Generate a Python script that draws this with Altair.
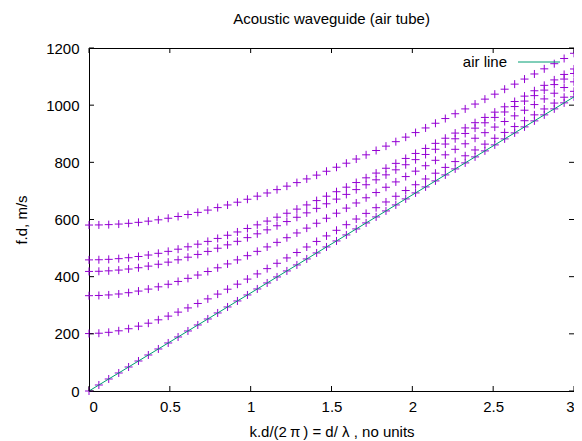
import altair as alt
import pandas as pd

# ---- data (k.d/2pi vs f.d) ----
x_vals = [0, 0.061, 0.122, 0.184, 0.245, 0.306, 0.367, 0.429, 0.49, 0.551,
          0.612, 0.673, 0.735, 0.796, 0.857, 0.918, 0.98, 1.041, 1.102, 1.163,
          1.224, 1.286, 1.347, 1.408, 1.469, 1.531, 1.592, 1.653, 1.714, 1.776,
          1.837, 1.898, 1.959, 2.02, 2.082, 2.143, 2.204, 2.265, 2.327, 2.388,
          2.449, 2.51, 2.571, 2.633, 2.694, 2.755, 2.816, 2.878, 2.939, 3.0]

mode_0 = [0, 21, 42, 63, 84, 105, 126, 147, 168, 189,
          210, 231, 252, 273, 294, 315, 336, 357, 378, 399,
          420, 441, 462, 483, 504, 525, 546, 567, 588, 609,
          630, 651, 672, 693, 714, 735, 756, 777, 798, 819,
          840, 861, 882, 903, 924, 945, 966, 987, 1008, 1029]

mode_1 = [201.0, 202.1, 205.3, 210.6, 217.8, 226.8, 237.2, 249.0, 262.0, 275.9,
          290.7, 306.2, 322.3, 339.0, 356.1, 373.7, 391.5, 409.7, 428.1, 446.8,
          465.6, 484.6, 503.8, 523.2, 542.6, 562.2, 581.8, 601.6, 621.4, 641.3,
          661.3, 681.3, 701.4, 721.6, 741.7, 762.0, 782.3, 802.6, 822.9, 843.3,
          863.7, 884.2, 904.6, 925.1, 945.6, 966.1, 986.7, 1007.3, 1027.8, 1048.4]

mode_2 = [333.5, 334.2, 336.1, 339.4, 343.9, 349.6, 356.5, 364.5, 373.4, 383.3,
          394.1, 405.7, 418.0, 431.0, 444.6, 458.7, 473.4, 488.5, 504.1, 520.0,
          536.3, 552.9, 569.8, 586.9, 604.4, 622.0, 639.8, 657.8, 676.0, 694.3,
          712.8, 731.5, 750.2, 769.1, 788.1, 807.1, 826.3, 845.5, 864.9, 884.3,
          903.8, 923.3, 942.9, 962.6, 982.3, 1002.1, 1021.9, 1041.8, 1061.7, 1081.7]

mode_3 = [418.3, 418.8, 420.4, 423.0, 426.7, 431.3, 436.9, 443.4, 450.8, 459.0,
          468.1, 477.8, 488.3, 499.5, 511.3, 523.6, 536.5, 549.9, 563.8, 578.1,
          592.8, 607.8, 623.2, 639.0, 655.0, 671.3, 687.8, 704.6, 721.6, 738.8,
          756.2, 773.8, 791.6, 809.5, 827.5, 845.7, 864.0, 882.4, 901.0, 919.6,
          938.4, 957.2, 976.2, 995.2, 1014.3, 1033.4, 1052.7, 1072.0, 1091.3, 1110.8]

mode_4 = [458.7, 459.2, 460.6, 463.0, 466.3, 470.6, 475.7, 481.7, 488.5, 496.1,
          504.5, 513.6, 523.4, 533.8, 544.8, 556.4, 568.6, 581.3, 594.4, 608.0,
          621.9, 636.3, 651.0, 666.1, 681.5, 697.2, 713.1, 729.3, 745.8, 762.4,
          779.3, 796.4, 813.6, 831.1, 848.6, 866.4, 884.3, 902.3, 920.4, 938.7,
          957.1, 975.6, 994.2, 1012.8, 1031.6, 1050.4, 1069.4, 1088.4, 1107.5, 1126.6]

mode_5 = [580.6, 581.0, 582.1, 584.0, 586.6, 590.0, 594.1, 598.9, 604.4, 610.6,
          617.4, 624.9, 632.9, 641.6, 650.8, 660.5, 670.8, 681.6, 692.8, 704.5,
          716.6, 729.1, 742.0, 755.2, 768.8, 782.8, 797.0, 811.5, 826.3, 841.4,
          856.7, 872.3, 888.1, 904.1, 920.3, 936.7, 953.2, 970.0, 986.9, 1003.9,
          1021.1, 1038.5, 1055.9, 1073.6, 1091.3, 1109.1, 1127.1, 1145.1, 1163.3, 1181.5]

series_names = ["mode 0", "mode 1", "mode 2", "mode 3", "mode 4", "mode 5"]
series_values = [mode_0, mode_1, mode_2, mode_3, mode_4, mode_5]

x_ticks = [0, 0.5, 1, 1.5, 2, 2.5, 3]
y_ticks = [0, 200, 400, 600, 800, 1000, 1200]
legend_label = ["air line"]

chart_title = "Acoustic waveguide (air tube)"
x_title = "k.d/(2\u2009π\u2009) = d/ λ , no units"
y_title = "f.d, m/s"

# ---- tables ----
rows = []
for name, ys in zip(series_names, series_values):
    for xv, yv in zip(x_vals, ys):
        rows.append({"x": xv, "y": yv, "series": name})
df = pd.DataFrame(rows)
air_df = pd.DataFrame({"x": x_vals, "y": mode_0})
xt_df = pd.DataFrame({"x": x_ticks})
yt_df = pd.DataFrame({"y": y_ticks})
leg_df = pd.DataFrame({"label": legend_label})

FONT = "Liberation Sans"
W, H = 485, 343
PURPLE = "#9400d3"
GREEN = "#009e73"
TICK = 5

xs = alt.Scale(domain=[0, 3], nice=False, zero=False)
ys = alt.Scale(domain=[0, 1200], nice=False, zero=False)

x_axis = alt.Axis(values=x_ticks, format="~g", title=x_title, grid=False,
                  domain=False, ticks=False, labelPadding=8, titlePadding=10)
y_axis = alt.Axis(values=y_ticks, format="d", title=y_title, grid=False,
                  domain=False, ticks=False, labelPadding=10, titlePadding=16)

PLUS = "M-1,0L1,0M0,-1L0,1"

points = alt.Chart(df).mark_point(
    shape=PLUS, size=64, filled=False, stroke=PURPLE, strokeWidth=1, opacity=1
).encode(
    x=alt.X("x:Q", scale=xs, axis=x_axis),
    y=alt.Y("y:Q", scale=ys, axis=y_axis),
    detail="series:N",
)

air = alt.Chart(air_df).mark_line(color=GREEN, strokeWidth=1).encode(
    x=alt.X("x:Q", scale=xs),
    y=alt.Y("y:Q", scale=ys),
)

tick_bottom = alt.Chart(xt_df).mark_rule(color="black", strokeWidth=1).encode(
    x=alt.X("x:Q", scale=xs), y=alt.value(H), y2=alt.value(H - TICK))
tick_top = alt.Chart(xt_df).mark_rule(color="black", strokeWidth=1).encode(
    x=alt.X("x:Q", scale=xs), y=alt.value(0), y2=alt.value(TICK))
tick_left = alt.Chart(yt_df).mark_rule(color="black", strokeWidth=1).encode(
    y=alt.Y("y:Q", scale=ys), x=alt.value(0), x2=alt.value(TICK))
tick_right = alt.Chart(yt_df).mark_rule(color="black", strokeWidth=1).encode(
    y=alt.Y("y:Q", scale=ys), x=alt.value(W), x2=alt.value(W - TICK))

leg_text = alt.Chart(leg_df).mark_text(
    align="right", baseline="middle", font=FONT, fontSize=15, color="black"
).encode(x=alt.value(418), y=alt.value(14), text="label:N")
leg_line = alt.Chart(leg_df).mark_rule(color=GREEN, strokeWidth=1).encode(
    x=alt.value(429), x2=alt.value(471), y=alt.value(14))

chart = alt.layer(
    points, air, tick_bottom, tick_top, tick_left, tick_right, leg_text, leg_line
).properties(
    width=W,
    height=H,
    title=alt.TitleParams(chart_title, font=FONT, fontSize=15, fontWeight="normal",
                          color="black", anchor="middle", offset=14),
    padding={"left": 81, "top": 40, "right": 0, "bottom": 50},
    autosize=alt.AutoSizeParams(type="none"),
).configure_view(
    stroke="black", strokeWidth=1
).configure_axis(
    labelFont=FONT, labelFontSize=15, labelColor="black",
    titleFont=FONT, titleFontSize=15, titleColor="black", titleFontWeight="normal",
)

chart.save("out.html", embed_options={"renderer": "svg", "actions": False})
